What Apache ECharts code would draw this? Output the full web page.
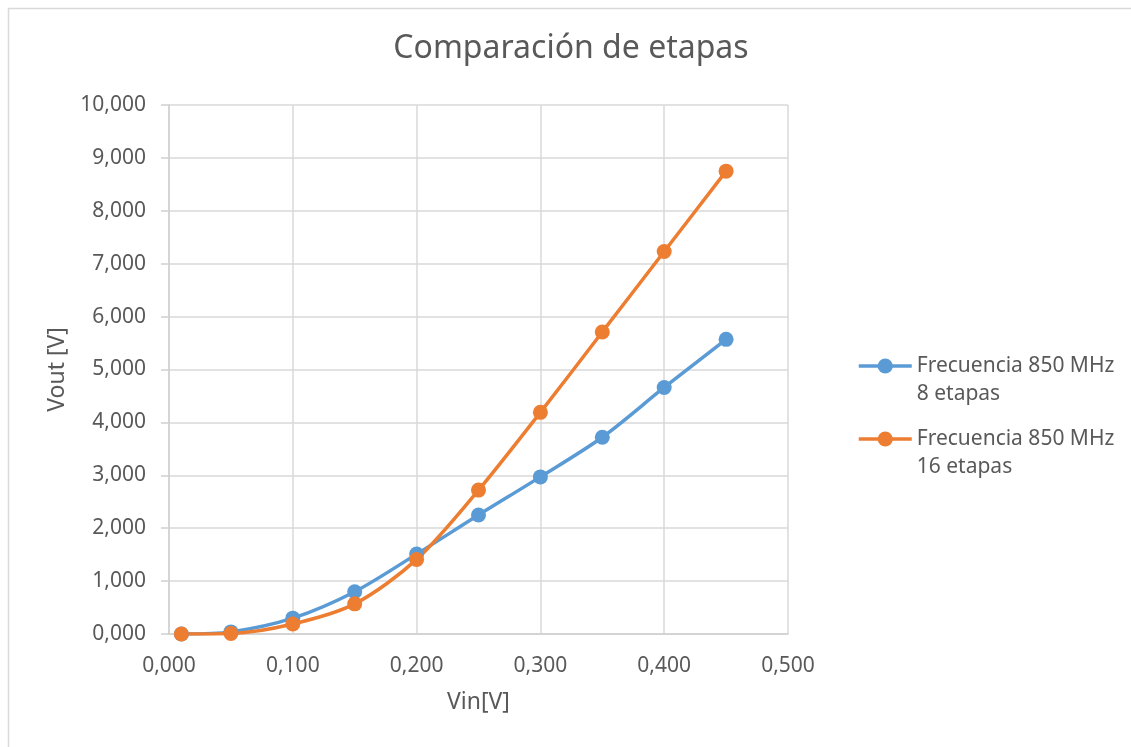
<!DOCTYPE html>
<html>
<head>
<meta charset="utf-8">
<script src="https://cdn.jsdelivr.net/npm/echarts@6/dist/echarts.min.js"></script>
<style>
html,body{margin:0;padding:0;background:#fff;}
#c{width:1131px;height:747px;}
</style>
</head>
<body>
<div id="c"></div>
<script>
const vin = [0.01, 0.05, 0.10, 0.15, 0.20, 0.25, 0.30, 0.35, 0.40, 0.45];
const vout8 = [0.00, 0.04, 0.30, 0.80, 1.51, 2.25, 2.97, 3.72, 4.66, 5.57];
const vout16 = [0.00, 0.01, 0.19, 0.57, 1.41, 2.72, 4.19, 5.71, 7.23, 8.75];
const seriesNames = ['Frecuencia 850 MHz\n8 etapas', 'Frecuencia 850 MHz\n16 etapas'];
const titleText = 'Comparación de etapas';
const xName = 'Vin[V]';
const yName = 'Vout [V]';

const font = 'Noto Sans, Open Sans, sans-serif';
const txt = '#595959';
const fmt = v => v.toFixed(3).replace('.', ',');
const pairs = (xs, ys) => xs.map((x, i) => [x, ys[i]]);

const legendCommon = {
  orient: 'vertical', left: 857, padding: 0,
  itemWidth: 53, itemHeight: 19,
  lineStyle: {width: 3.5},
  formatter: name => '\n' + name,
  textStyle: {fontFamily: font, fontSize: 21, color: txt, lineHeight: 28}
};

const chart = echarts.init(document.getElementById('c'));
chart.setOption({
  animation: false,
  backgroundColor: '#fff',
  graphic: [{
    type: 'rect', left: 6, top: 6, silent: true,
    shape: {width: 1200, height: 800},
    style: {fill: 'none', stroke: '#d9d9d9', lineWidth: 1.5}
  }],
  title: {
    text: titleText, left: 566, top: 28, textAlign: 'center',
    textStyle: {fontFamily: font, fontSize: 32, fontWeight: 'normal', color: txt}
  },
  grid: {left: 169, right: 343, top: 105, bottom: 113},
  xAxis: {
    type: 'value', min: 0, max: 0.5, interval: 0.1,
    name: xName, nameLocation: 'middle', nameGap: 57,
    nameTextStyle: {fontFamily: font, fontSize: 23, color: txt},
    axisLine: {show: true, lineStyle: {color: '#d0d0d0', width: 1.5}},
    axisTick: {show: false},
    splitLine: {show: true, lineStyle: {color: '#d9d9d9', width: 1.5}},
    axisLabel: {formatter: fmt, fontFamily: font, fontSize: 21, color: txt, margin: 22}
  },
  yAxis: {
    type: 'value', min: 0, max: 10, interval: 1,
    name: yName, nameLocation: 'middle', nameGap: 100, nameRotate: 90,
    nameTextStyle: {fontFamily: font, fontSize: 23, color: txt},
    axisLine: {show: true, lineStyle: {color: '#d0d0d0', width: 1.5}},
    axisTick: {show: true, length: 8, lineStyle: {color: '#d0d0d0', width: 1.5}},
    splitLine: {show: true, lineStyle: {color: '#d9d9d9', width: 1.5}},
    axisLabel: {formatter: fmt, fontFamily: font, fontSize: 21, color: txt, margin: 23}
  },
  legend: [
    Object.assign({}, legendCommon, {top: 324, data: [seriesNames[0]]}),
    Object.assign({}, legendCommon, {top: 397, data: [seriesNames[1]]})
  ],
  series: [
    {
      name: seriesNames[0], type: 'line', data: pairs(vin, vout8), smooth: 0.3,
      symbol: 'circle', symbolSize: 15,
      lineStyle: {color: '#5B9BD5', width: 3.5}, itemStyle: {color: '#5B9BD5'}
    },
    {
      name: seriesNames[1], type: 'line', data: pairs(vin, vout16), smooth: 0.3,
      symbol: 'circle', symbolSize: 15,
      lineStyle: {color: '#ED7D31', width: 3.5}, itemStyle: {color: '#ED7D31'}
    }
  ]
});
</script>
</body>
</html>
